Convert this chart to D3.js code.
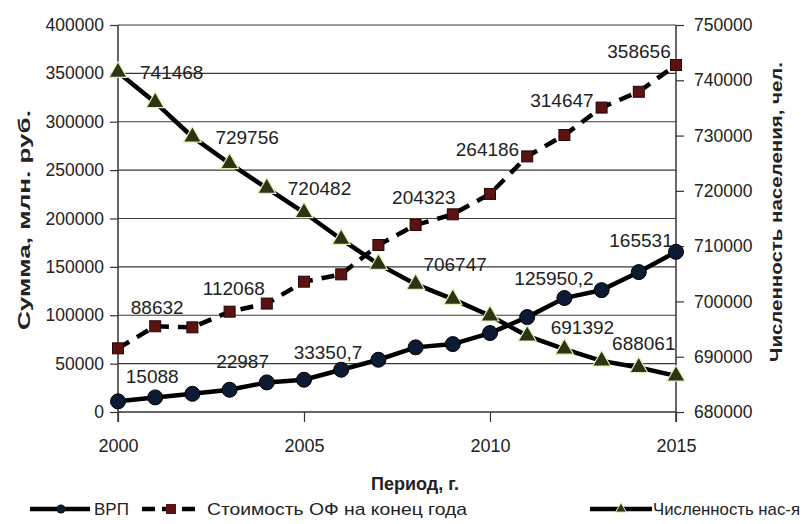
<!DOCTYPE html>
<html><head><meta charset="utf-8">
<script src="https://cdn.jsdelivr.net/npm/d3@7"></script>
<style>
body{margin:0;background:#fff;}
svg{display:block;}
text{font-family:"Liberation Sans",Arial,sans-serif;fill:#222;}
</style></head>
<body>
<svg id="chart" width="803" height="524"></svg>
<script>
const years = [2000,2001,2002,2003,2004,2005,2006,2007,2008,2009,2010,2011,2012,2013,2014,2015];
const vrp = [11000,15088,18800,22987,30600,33350.7,43700,54000,66800,70200,81600,98100,117800,125950.2,144600,165531];
const fixedAssets = [65800,88632,87500,103700,112068,134700,142300,172600,193300,204323,225400,264186,286300,314647,331000,358656];
const population = [741468,736000,729756,724950,720482,716080,711250,706747,703120,700410,697400,693780,691392,689250,688061,686540];
const xTicks = [2000,2005,2010,2015];
const leftTicks = [0,50000,100000,150000,200000,250000,300000,350000,400000];
const rightTicks = [680000,690000,700000,710000,720000,730000,740000,750000];
const seriesNames = ["ВРП","Стоимость ОФ на конец года","Численность нас-я"];
const leftTitle = "Сумма, млн. руб.";
const rightTitle = "Численность  населения, чел.";
const xTitle = "Период, г.";
// labelled points: [series index, year]
const labelled = [[2,2000],[2,2002],[2,2004],[2,2007],[2,2012],[2,2014],
  [1,2001],[1,2004],[1,2009],[1,2011],[1,2013],[1,2015],
  [0,2001],[0,2003],[0,2005],[0,2013],[0,2015]];
// label placement (offsets from point, anchor)
const labelPlace = [[22,0,"start"],[23,0,"start"],[21,0,"start"],[45,0,"start"],[18,-22,"middle"],[5,-24,"middle"],
  [2,-19,"middle"],[-33,-15,"middle"],[-29,-17,"middle"],[-8,-7,"end"],[-8,-7,"end"],[-37,-14,"middle"],
  [-3,-21,"middle"],[13,-28,"middle"],[24,-27,"middle"],[-8,-12,"end"],[-35,-11,"middle"]];

const svg = d3.select("#chart");
const m = {left:118, right:676, top:25, bottom:412};
const x = d3.scaleLinear().domain([2000,2015]).range([m.left,m.right]);
const yL = d3.scaleLinear().domain([0,400000]).range([m.bottom,m.top]);
const yR = d3.scaleLinear().domain([680000,750000]).range([m.bottom,m.top]);

// gridlines
svg.append("g").selectAll("line").data(leftTicks.filter(d=>d>0)).join("line")
  .attr("x1",m.left).attr("x2",m.right).attr("y1",d=>yL(d)).attr("y2",d=>yL(d))
  .attr("stroke","#3a3a3a").attr("stroke-width",1.2);

// left axis
const gL = svg.append("g").attr("transform",`translate(${m.left},0)`)
  .call(d3.axisLeft(yL).tickValues(leftTicks).tickFormat(d3.format("d")).tickSize(8).tickPadding(6));
gL.select(".domain").attr("d",`M0,${m.top}V${m.bottom+10}`).attr("stroke","#333").attr("stroke-width",1.5);
gL.selectAll(".tick line").attr("stroke","#333").attr("stroke-width",1.2);
gL.selectAll(".tick text").attr("font-size",17.5).attr("font-family","Liberation Sans, Arial, sans-serif").attr("fill","#222");

// right axis
const gR = svg.append("g").attr("transform",`translate(${m.right},0)`)
  .call(d3.axisRight(yR).tickValues(rightTicks).tickFormat(d3.format("d")).tickSize(8).tickPadding(10));
gR.select(".domain").attr("d",`M0,${m.top}V${m.bottom+10}`).attr("stroke","#333").attr("stroke-width",1.5);
gR.selectAll(".tick line").attr("stroke","#333").attr("stroke-width",1.2);
gR.selectAll(".tick text").attr("font-size",17.5).attr("font-family","Liberation Sans, Arial, sans-serif").attr("fill","#222");

// bottom axis
const gB = svg.append("g").attr("transform",`translate(0,${m.bottom})`)
  .call(d3.axisBottom(x).tickValues(xTicks).tickFormat(d3.format("d")).tickSize(10).tickPadding(17));
gB.select(".domain").attr("d",`M${m.left},0H${m.right}`).attr("stroke","#333").attr("stroke-width",1.5);
gB.selectAll(".tick line").attr("stroke","#333").attr("stroke-width",1.2);
gB.selectAll(".tick text").attr("font-size",18).attr("font-family","Liberation Sans, Arial, sans-serif").attr("fill","#222");

// titles
svg.append("text").attr("transform",`translate(30,220) rotate(-90)`).attr("text-anchor","middle")
  .attr("font-size",17).attr("font-weight","bold").attr("textLength",220).attr("lengthAdjust","spacingAndGlyphs").text(leftTitle);
svg.append("text").attr("transform",`translate(782,212) rotate(-90)`).attr("text-anchor","middle")
  .attr("font-size",17).attr("font-weight","bold").attr("textLength",300).attr("lengthAdjust","spacingAndGlyphs").text(rightTitle);
svg.append("text").attr("x",415).attr("y",490).attr("text-anchor","middle")
  .attr("font-size",18).attr("font-weight","bold").text(xTitle);

const allSeries = [
  {vals:vrp, y:yL},
  {vals:fixedAssets, y:yL},
  {vals:population, y:yR}
];
const line = (s)=>d3.line().x((d,i)=>x(years[i])).y(d=>s.y(d))(s.vals);

// lines
svg.append("path").attr("d",line(allSeries[0])).attr("fill","none").attr("stroke","#000").attr("stroke-width",4.5);
svg.append("path").attr("d",line(allSeries[1])).attr("fill","none").attr("stroke","#000").attr("stroke-width",4.5)
  .attr("stroke-dasharray","13,9");
svg.append("path").attr("d",line(allSeries[2])).attr("fill","none").attr("stroke","#000").attr("stroke-width",4.5);

const tri = d3.symbol().type(d3.symbolTriangle).size(140);
// markers
svg.append("g").selectAll("rect").data(fixedAssets).join("rect")
  .attr("x",(d,i)=>x(years[i])-5.5).attr("y",d=>yL(d)-5.5).attr("width",11).attr("height",11)
  .attr("fill","#5a1212").attr("stroke","#2a0505").attr("stroke-width",1);
svg.append("g").selectAll("circle").data(vrp).join("circle")
  .attr("cx",(d,i)=>x(years[i])).attr("cy",d=>yL(d)).attr("r",7.5)
  .attr("fill","#0d1a33").attr("stroke","#000").attr("stroke-width",1);
svg.append("g").selectAll("path").data(population).join("path")
  .attr("transform",(d,i)=>`translate(${x(years[i])},${yR(d)})`).attr("d",tri())
  .attr("fill","#2a3512").attr("stroke","#e6eeb8").attr("stroke-width",1.2);

// data labels
const fmt = v => String(v).replace(".",",");
svg.append("g").selectAll("text").data(labelled).join("text")
  .attr("x",(d,k)=>x(d[1])+labelPlace[k][0])
  .attr("y",(d,k)=>allSeries[d[0]].y(allSeries[d[0]].vals[years.indexOf(d[1])])+labelPlace[k][1])
  .attr("dy","0.35em").attr("text-anchor",(d,k)=>labelPlace[k][2])
  .attr("font-size",19).attr("fill","#1a1a1a")
  .text(d=>fmt(allSeries[d[0]].vals[years.indexOf(d[1])]));

// legend
const lg = svg.append("g").attr("transform","translate(0,509)");
lg.append("line").attr("x1",30).attr("x2",90).attr("stroke","#000").attr("stroke-width",4.5);
lg.append("circle").attr("cx",61).attr("r",4.5).attr("fill","#0d1a33");
lg.append("text").attr("x",94).attr("dy","0.35em").attr("font-size",17).text(seriesNames[0]);
lg.append("line").attr("x1",142).attr("x2",200).attr("stroke","#000").attr("stroke-width",4.5).attr("stroke-dasharray","13,7");
lg.append("rect").attr("x",166).attr("y",-5).attr("width",10).attr("height",10).attr("fill","#5a1212");
lg.append("text").attr("x",207).attr("dy","0.35em").attr("font-size",17).attr("textLength",260).attr("lengthAdjust","spacingAndGlyphs").text(seriesNames[1]);
lg.append("line").attr("x1",590).attr("x2",652).attr("stroke","#000").attr("stroke-width",4.5);
lg.append("path").attr("transform","translate(621,0)").attr("d",d3.symbol().type(d3.symbolTriangle).size(50)())
  .attr("fill","#2a3512").attr("stroke","#e6eeb8");
lg.append("text").attr("x",653).attr("dy","0.35em").attr("font-size",17).attr("textLength",147).attr("lengthAdjust","spacingAndGlyphs").text(seriesNames[2]);
</script>
</body></html>
